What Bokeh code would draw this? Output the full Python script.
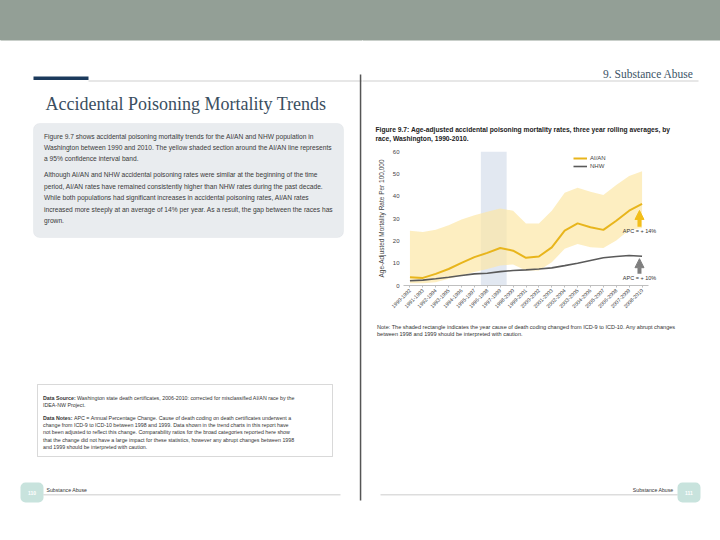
import math
from bokeh.plotting import figure
from bokeh.layouts import row, column
from bokeh.models import Range1d, FixedTicker, Label, BoxAnnotation, Arrow, NormalHead
from bokeh.embed import file_html
from bokeh.resources import INLINE

# ---------------- data ----------------
periods = ["1990-1992", "1991-1993", "1992-1994", "1993-1995", "1994-1996",
           "1995-1997", "1996-1998", "1997-1999", "1998-2000", "1999-2001",
           "2000-2002", "2001-2003", "2002-2004", "2003-2005", "2004-2006",
           "2005-2007", "2006-2008", "2007-2009", "2008-2010"]
aian_rate = [3.7, 3.4, 5.2, 7.4, 10.1, 12.7, 14.6, 16.8, 15.6, 12.4,
             13.0, 17.1, 24.6, 27.8, 26.1, 24.9, 29.0, 33.5, 36.5]
aian_upper = [24.5, 24.0, 25.0, 27.0, 29.5, 31.5, 33.0, 34.5, 33.5, 27.8,
              27.8, 33.5, 41.5, 43.8, 42.0, 40.5, 45.0, 49.0, 51.2]
aian_lower = [1.0, 1.0, 1.5, 3.0, 4.5, 6.0, 7.4, 9.0, 9.4, 6.7,
              6.7, 10.4, 16.4, 18.6, 17.1, 16.8, 20.1, 24.9, 25.8]
nhw_rate = [2.1, 2.4, 3.0, 3.7, 4.5, 5.2, 5.5, 6.2, 6.7, 7.0,
            7.4, 7.9, 8.9, 10.0, 11.2, 12.4, 13.0, 13.4, 13.1]
y_ticks = [0, 10, 20, 30, 40, 50, 60]
icd_change_periods = ["1996-1998", "1997-1999"]
apc_aian_label = "APC = + 14%"
apc_nhw_label = "APC = + 10%"
apc_aian_arrow = (26.3, 33.6)
apc_nhw_arrow = (5.3, 12.0)

idx = list(range(len(periods)))

# ---------------- layout (page pixels) ----------------
PX0, PY0, PX1, PY1 = 0, 0, 720, 540
SPLIT_X = 362          # left page | right page column
CT_Y = 145             # chart figure top
CB_Y = 315             # chart figure bottom
FL, FR, FT, FB = 403, 670, 151, 285   # chart plot frame
PX_PER_UNIT = 245 / 19
HEADER = "#939F96"


def deco_fig(x0, x1, y0, y1):
    f = figure(width=int(x1 - x0), height=int(y1 - y0), output_backend="svg",
               toolbar_location=None, x_axis_type=None, y_axis_type=None,
               x_range=Range1d(x0, x1), y_range=Range1d(y1, y0), min_border=0)
    f.outline_line_color = None
    f.background_fill_alpha = 0
    f.border_fill_alpha = 0
    f.xgrid.visible = False
    f.ygrid.visible = False
    return f


def box(f, x0, y0, x1, y1, fill=None, line=None, lw=1, radius=0):
    f.add_layout(BoxAnnotation(left=x0, right=x1, top=y0, bottom=y1,
                               fill_color=fill, fill_alpha=1.0 if fill else 0.0,
                               line_color=line, line_width=lw, border_radius=radius))


def txt(f, x, y, s, size, color="#333333", font="Liberation Sans", style="normal", align="left"):
    f.add_layout(Label(x=x, y=y, text=s, text_font=font, text_font_size=f"{size}px",
                       text_color=color, text_font_style=style, text_align=align,
                       text_baseline="middle"))


# ---------------- left page ----------------
L = deco_fig(PX0, SPLIT_X, PY0, PY1)
box(L, -1, -1, SPLIT_X + 2, 40, fill=HEADER)
box(L, 33, 76, 88, 79.5, fill="#1B3A5C")
box(L, 88, 80, SPLIT_X + 1, 81, fill="#CFCFCF")
box(L, 359.3, 74, 360.8, 500, fill="#555555")
txt(L, 45, 103, "Accidental Poisoning Mortality Trends", 18, color="#3A4E60", font="Liberation Serif")

box(L, 33, 123, 343, 237, fill="#E9ECEF", line="#D6DBE0", lw=1, radius=6)
para = [
    (136, "Figure 9.7 shows accidental poisoning mortality trends for the AI/AN and NHW population in"),
    (147, "Washington between 1990 and 2010.  The yellow shaded section around the AI/AN line represents"),
    (158, "a 95% confidence interval band."),
    (174, "Although AI/AN and NHW accidental poisoning rates were similar at the beginning of the time"),
    (185.5, "period, AI/AN rates have remained consistently higher than NHW rates during the past decade."),
    (197, "While both populations had significant increases in accidental poisoning rates, AI/AN rates"),
    (208.5, "increased more steeply at an average of 14% per year.  As a result, the gap between the races has"),
    (219.5, "grown."),
]
for y, s in para:
    txt(L, 43.5, y, s, 6.65, color="#3A3A3A")

box(L, 37, 384, 332, 456, fill="white", line="#808080", lw=1)
txt(L, 42.5, 397, "Data Source:", 5.3, style="bold")
txt(L, 76.5, 397, "Washington state death certificates, 2006-2010: corrected for misclassified AI/AN race by the", 5.3)
txt(L, 42.5, 404.5, "IDEA-NW Project.", 5.3)
txt(L, 42.5, 417, "Data Notes:", 5.3, style="bold")
txt(L, 73.5, 417, "APC = Annual Percentage Change. Cause of death coding on death certificates underwent a", 5.3)
notes = [
    (424.5, "change from ICD-9 to ICD-10 between 1998 and 1999. Data shown in the trend charts in this report have"),
    (431.8, "not been adjusted to reflect this change. Comparability ratios for the broad categories reported here show"),
    (439.1, "that the change did not have a large impact for these statistics, however any abrupt changes between 1998"),
    (446.4, "and 1999 should be interpreted with caution."),
]
for y, s in notes:
    txt(L, 42.5, y, s, 5.3)

box(L, 20, 482, 43, 502, fill="#C8E3DD", radius=5)
txt(L, 31.5, 492, "110", 5, color="white", align="center", style="bold")
txt(L, 46, 489, "Substance Abuse", 5.2)
box(L, 43, 494, 340, 494.8, fill="#BBBBBB")

# ---------------- right page: top ----------------
RT = deco_fig(SPLIT_X, PX1, PY0, CT_Y)
box(RT, SPLIT_X - 2, -1, PX1 + 1, 40, fill=HEADER)
box(RT, SPLIT_X - 1, 80, 698, 81, fill="#CFCFCF")
txt(RT, 693, 73, "9. Substance Abuse", 11.5, color="#3C5466", font="Liberation Serif", align="right")
txt(RT, 375, 128.5, "Figure 9.7: Age-adjusted accidental poisoning mortality rates, three year rolling averages, by",
    6.7, color="#222222", style="bold")
txt(RT, 375, 137.5, "race, Washington, 1990-2010.", 6.7, color="#222222", style="bold")

# ---------------- right page: chart ----------------
x_end = -0.5 + (FR - FL) / PX_PER_UNIT
p = figure(width=PX1 - SPLIT_X, height=CB_Y - CT_Y, output_backend="svg", toolbar_location=None,
           x_range=Range1d(-0.5, x_end), y_range=Range1d(y_ticks[0], y_ticks[-1]),
           min_border_left=FL - SPLIT_X, min_border_right=PX1 - FR,
           min_border_top=FT - CT_Y, min_border_bottom=CB_Y - FB)
p.background_fill_color = "white"
p.border_fill_color = "white"
p.outline_line_color = None
p.xgrid.visible = False
p.ygrid.visible = False

i0 = periods.index(icd_change_periods[0]) - 0.5
i1 = periods.index(icd_change_periods[-1]) + 0.5
p.quad(left=[i0], right=[i1], bottom=[y_ticks[0]], top=[y_ticks[-1]],
       fill_color="#E2E8F1", line_color=None)
p.varea(x=idx, y1=aian_lower, y2=aian_upper, fill_color="#FCE7A6", fill_alpha=0.7)
r_nhw = p.line(idx, nhw_rate, line_color="#5A5A5A", line_width=1.6, legend_label="NHW")
r_aian = p.line(idx, aian_rate, line_color="#E8B51C", line_width=2.0, legend_label="AI/AN")

lg = p.legend[0]
items = lg.items
lg.items = [items[1], items[0]]
lg.location = (170, 115)
lg.background_fill_alpha = 0
lg.border_line_color = None
lg.label_text_font = "Liberation Sans"
lg.label_text_font_size = "6px"
lg.label_text_color = "#444444"
lg.glyph_width = 14
lg.glyph_height = 8
lg.label_height = 8
lg.spacing = 0
lg.padding = 0
lg.margin = 0
lg.label_standoff = 3

p.yaxis.ticker = FixedTicker(ticks=y_ticks)
p.yaxis.axis_line_color = None
p.yaxis.major_tick_line_color = None
p.yaxis.major_tick_out = 0
p.yaxis.major_tick_in = 0
p.yaxis.minor_tick_line_color = None
p.yaxis.minor_tick_out = 0
p.yaxis.major_label_text_font = "Liberation Sans"
p.yaxis.major_label_text_font_size = "6px"
p.yaxis.major_label_text_color = "#444444"
p.yaxis.major_label_standoff = 4
p.yaxis.axis_label = "Age-Adjusted Mortality Rate Per 100,000"
p.yaxis.axis_label_text_font = "Liberation Sans"
p.yaxis.axis_label_text_font_size = "6.5px"
p.yaxis.axis_label_text_font_style = "normal"
p.yaxis.axis_label_text_color = "#444444"
p.yaxis.axis_label_standoff = 5

p.xaxis.ticker = FixedTicker(ticks=idx)
p.xaxis.bounds = (-0.5, len(periods) - 0.5)
p.xaxis.major_label_overrides = {i: s for i, s in zip(idx, periods)}
p.xaxis.major_label_orientation = math.pi / 4
p.xaxis.major_label_text_font = "Liberation Sans"
p.xaxis.major_label_text_font_size = "5.2px"
p.xaxis.major_label_text_color = "#444444"
p.xaxis.major_label_standoff = 2
p.xaxis.axis_line_color = "#BFBFBF"
p.xaxis.major_tick_line_color = "#BFBFBF"
p.xaxis.major_tick_out = 2
p.xaxis.major_tick_in = 0
p.xaxis.minor_tick_line_color = None
p.xaxis.minor_tick_out = 0

ax = len(periods) - 1 - 0.2
p.add_layout(Arrow(end=NormalHead(size=9, fill_color="#F2BE1A", line_color="#F2BE1A"),
                   x_start=ax, y_start=apc_aian_arrow[0], x_end=ax, y_end=apc_aian_arrow[1],
                   line_color="#F2BE1A", line_width=4))
p.add_layout(Arrow(end=NormalHead(size=9, fill_color="#7F7F7F", line_color="#7F7F7F"),
                   x_start=ax, y_start=apc_nhw_arrow[0], x_end=ax, y_end=apc_nhw_arrow[1],
                   line_color="#7F7F7F", line_width=4))
p.add_layout(Label(x=ax, y=apc_aian_arrow[0] - 1.8, text=apc_aian_label, text_align="center",
                   text_baseline="middle", text_font="Liberation Sans", text_font_size="5.5px",
                   text_color="#333333"))
p.add_layout(Label(x=ax, y=apc_nhw_arrow[0] - 1.8, text=apc_nhw_label, text_align="center",
                   text_baseline="middle", text_font="Liberation Sans", text_font_size="5.5px",
                   text_color="#333333"))

# ---------------- right page: bottom ----------------
RB = deco_fig(SPLIT_X, PX1, CB_Y, PY1)
txt(RB, 376.5, 326, "Note: The shaded rectangle indicates the year cause of death coding changed from ICD-9 to ICD-10. Any abrupt changes", 5.55)
txt(RB, 376.5, 333, "between 1998 and 1999 should be interpreted with caution.", 5.55)
box(RB, 677, 482, 700, 502, fill="#C8E3DD", radius=5)
txt(RB, 688.5, 492, "111", 5, color="white", align="center", style="bold")
txt(RB, 673, 489, "Substance Abuse", 5.2, align="right")
box(RB, 380, 494, 677, 494.8, fill="#BBBBBB")

right_col = column(row(RT, spacing=0), row(p, spacing=0), row(RB, spacing=0), spacing=0)
page = row(L, right_col, spacing=0,
           styles={"background": "linear-gradient(to bottom, #939F96 0px, #939F96 40px, #ffffff 40px)"})
open("out.html", "w").write(file_html(page, INLINE))
